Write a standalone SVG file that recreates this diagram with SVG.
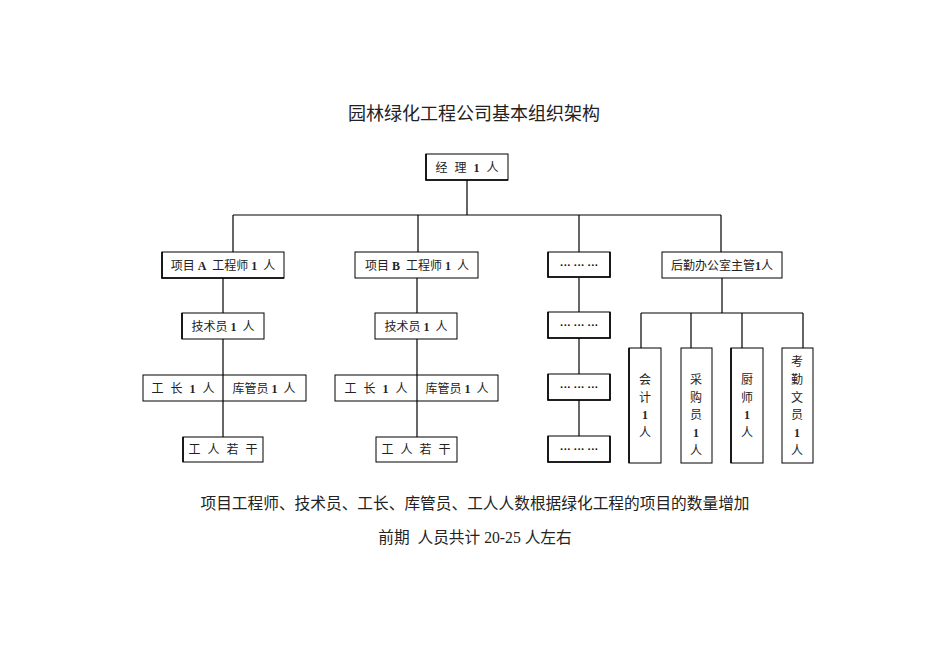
<svg xmlns="http://www.w3.org/2000/svg" width="950" height="672" viewBox="0 0 950 672">
<style>
.bg{fill:#fff}
.box{fill:#fff;stroke:#000;stroke-width:1}
.sh{stroke:#000;stroke-width:1.6;fill:none}
.ln{stroke:#000;stroke-width:1.2;fill:none}
.t{font-family:"Liberation Serif","Noto Sans CJK SC",serif;font-size:12px;fill:#222;text-anchor:middle}
.sp{letter-spacing:2px}
.b{font-weight:bold}
.d{font-family:"Liberation Serif",serif;font-size:11px;fill:#000;text-anchor:middle;font-weight:bold}
.title{font-family:"Liberation Serif","Noto Sans CJK SC",serif;font-size:18px;fill:#222;text-anchor:middle}
.note{font-family:"Liberation Serif","Noto Sans CJK SC",serif;font-size:15.7px;fill:#222;text-anchor:middle}
</style>
<rect class="bg" width="950" height="672"/>
<text class="title" x="474" y="120">园林绿化工程公司基本组织架构</text>

<g id="connectors">
<path class="ln" d="M467 180V215M233 215H721M233 215V252M418 215V252M579 215V252M721 215V252"/>
<path class="ln" d="M223 278V437"/>
<path class="ln" d="M417 278V437"/>
<path class="ln" d="M579 278V436"/>
<path class="ln" d="M722 278V313M641 313H803M641 313V348M691 313V348M742 313V348M803 313V348"/>
</g>

<g id="manager"><rect class="box" x="426" y="154" width="82" height="26"/><path class="sh" d="M426 154V180H508"/><text class="t sp" x="468" y="172">经 理 <tspan class="b">1</tspan> 人</text></g>

<g id="projA"><rect class="box" x="162" y="252" width="122" height="26"/><path class="sh" d="M162 252V278H284"/><text class="t" x="223" y="270" xml:space="preserve">项目 <tspan class="b">A</tspan>  工程师 <tspan class="b">1</tspan>  人</text></g>
<g id="projB"><rect class="box" x="355" y="252" width="123" height="26"/><text class="t" x="417" y="270" xml:space="preserve">项目 <tspan class="b">B</tspan>  工程师 <tspan class="b">1</tspan>  人</text></g>
<g id="dots1"><rect class="box" x="548" y="252" width="62" height="25"/><path class="sh" d="M548 252V277H610V252"/><text class="d" x="579" y="269">··· ··· ···</text></g>
<g id="logistics"><rect class="box" x="662" y="252" width="120" height="26"/><text class="t" x="722" y="270">后勤办公室主管<tspan class="b">1</tspan>人</text></g>

<g id="techA"><rect class="box" x="182" y="313" width="82" height="26"/><path class="sh" d="M182 313V339"/><text class="t" x="223" y="331" xml:space="preserve">技术员 <tspan class="b">1</tspan>  人</text></g>
<g id="techB"><rect class="box" x="375" y="313" width="82" height="26"/><text class="t" x="416" y="331" xml:space="preserve">技术员 <tspan class="b">1</tspan>  人</text></g>
<g id="dots2"><rect class="box" x="548" y="312" width="62" height="26"/><path class="sh" d="M548 312V338H610V312"/><text class="d" x="579" y="329">··· ··· ···</text></g>

<g id="foremanA"><rect class="box" x="143" y="375" width="163" height="26"/><path class="ln" d="M223 375V401"/><text class="t sp" x="184" y="393">工 长 <tspan class="b">1</tspan> 人</text><text class="t" x="264" y="393" xml:space="preserve">库管员 <tspan class="b">1</tspan>  人</text></g>
<g id="foremanB"><rect class="box" x="335" y="375" width="163" height="26"/><path class="ln" d="M417 375V401"/><text class="t sp" x="377" y="393">工 长 <tspan class="b">1</tspan> 人</text><text class="t" x="457" y="393" xml:space="preserve">库管员 <tspan class="b">1</tspan>  人</text></g>
<g id="dots3"><rect class="box" x="548" y="374" width="62" height="26"/><path class="sh" d="M548 374V400H610V374"/><text class="d" x="579" y="391">··· ··· ···</text></g>

<g id="workersA"><rect class="box" x="183" y="437" width="80" height="25"/><path class="sh" d="M183 437V462"/><text class="t sp" x="224" y="454">工 人 若 干</text></g>
<g id="workersB"><rect class="box" x="376" y="437" width="81" height="25"/><text class="t sp" x="417" y="454">工 人 若 干</text></g>
<g id="dots4"><rect class="box" x="548" y="436" width="62" height="26"/><path class="sh" d="M548 436V462H610V436"/><text class="d" x="579" y="453">··· ··· ···</text></g>

<g id="accountant"><rect class="box" x="629" y="348" width="32" height="115"/><path class="sh" d="M629 348V463"/><text class="t" x="645" y="384">会</text><text class="t" x="645" y="402">计</text><text class="t b" x="645" y="419">1</text><text class="t" x="645" y="437">人</text></g>
<g id="purchaser"><rect class="box" x="681" y="348" width="31" height="115"/><text class="t" x="696" y="384">采</text><text class="t" x="696" y="402">购</text><text class="t" x="696" y="419">员</text><text class="t b" x="696" y="437">1</text><text class="t" x="696" y="455">人</text></g>
<g id="cook"><rect class="box" x="731" y="348" width="32" height="115"/><path class="sh" d="M731 348V463"/><text class="t" x="747" y="384">厨</text><text class="t" x="747" y="402">师</text><text class="t b" x="747" y="419">1</text><text class="t" x="747" y="437">人</text></g>
<g id="clerk"><rect class="box" x="782" y="348" width="31" height="115"/><text class="t" x="797" y="366">考</text><text class="t" x="797" y="384">勤</text><text class="t" x="797" y="402">文</text><text class="t" x="797" y="419">员</text><text class="t b" x="797" y="437">1</text><text class="t" x="797" y="455">人</text></g>

<text class="note" x="475" y="509">项目工程师、技术员、工长、库管员、工人人数根据绿化工程的项目的数量增加</text>
<text class="note" x="475" y="543" xml:space="preserve">前期  人员共计 20-25 人左右</text>
</svg>
